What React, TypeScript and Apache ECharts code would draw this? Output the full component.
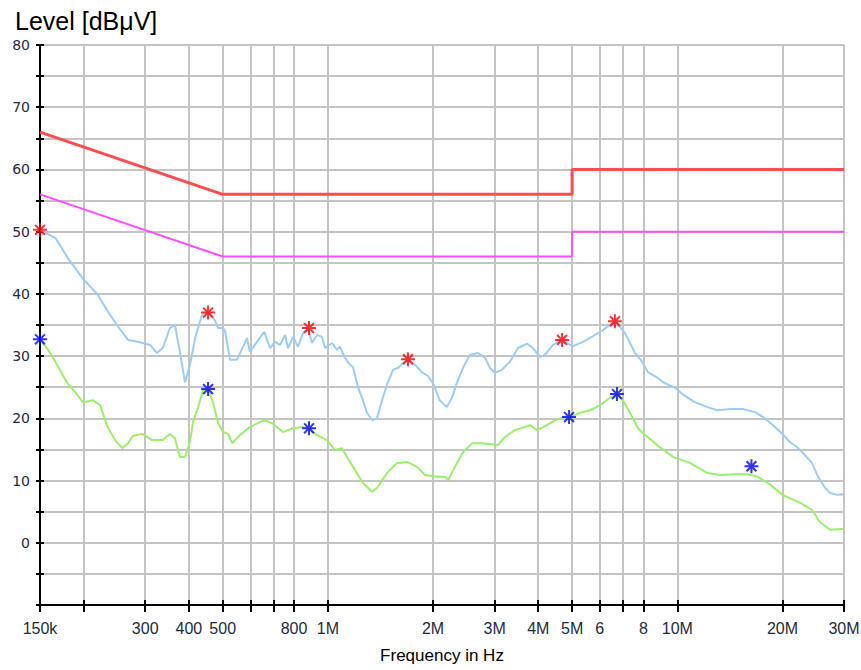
import React, { useEffect, useRef } from "react";
import * as echarts from "echarts";

// Frequency axis (kHz)
const xTickKHz = [150, 200, 300, 400, 500, 600, 700, 800, 1000, 2000, 3000, 4000, 5000, 6000, 7000, 8000, 10000, 20000, 30000];
const xLabelKHz = [150, 300, 400, 500, 800, 1000, 2000, 3000, 4000, 5000, 6000, 8000, 10000, 20000, 30000];
const xLabelText = ["150k", "300", "400", "500", "800", "1M", "2M", "3M", "4M", "5M", "6", "8", "10M", "20M", "30M"];

// Limit lines (kHz, dBµV)
const qpLimitFreq = [150, 500, 5000, 5000, 30000];
const qpLimitLevel = [66, 56, 56, 60, 60];
const avLimitFreq = [150, 500, 5000, 5000, 30000];
const avLimitLevel = [56, 46, 46, 50, 50];

// Peak trace (light blue)
const peakFreq = [150, 166, 180, 198, 220, 233, 249, 268, 286, 310, 324, 337, 353, 365, 377, 390, 403, 417, 436, 454, 475, 485, 501, 508, 525, 549, 587, 598, 627, 657, 683, 706, 729, 754, 769, 795, 821, 849, 877, 901, 931, 962, 981, 1028, 1062, 1083, 1119, 1157, 1180, 1220, 1260, 1294, 1338, 1382, 1429, 1476, 1536, 1587, 1641, 1695, 1776, 1860, 1935, 2000, 2090, 2190, 2270, 2340, 2440, 2550, 2690, 2820, 2910, 3010, 3150, 3320, 3500, 3720, 3860, 4050, 4180, 4410, 4680, 4830, 5030, 5370, 5740, 6130, 6510, 6720, 7090, 7320, 7570, 7930, 8250, 8750, 9100, 9860, 10400, 11200, 12200, 13000, 14200, 15400, 16700, 17600, 18800, 19900, 21000, 22000, 23200, 24300, 25300, 26500, 27400, 28700, 29800, 30000];
const peakLevel = [50.2, 49.0, 45.8, 42.6, 39.8, 37.4, 35.0, 32.6, 32.3, 31.8, 30.5, 31.3, 34.5, 35.0, 30.7, 25.8, 28.6, 32.9, 36.6, 37.1, 35.8, 34.5, 34.5, 34.0, 29.4, 29.4, 32.9, 30.7, 32.3, 33.9, 31.3, 32.3, 31.8, 33.4, 31.3, 33.1, 31.5, 33.7, 34.5, 32.1, 33.4, 33.1, 31.3, 32.1, 31.0, 31.5, 29.7, 28.6, 28.2, 25.0, 22.9, 20.9, 19.7, 20.0, 22.9, 25.4, 27.8, 28.1, 28.9, 29.4, 28.6, 27.4, 26.8, 25.6, 22.9, 21.8, 23.4, 25.7, 28.2, 30.2, 30.5, 29.7, 28.1, 27.3, 27.8, 29.1, 31.3, 32.0, 31.3, 29.9, 30.2, 31.8, 32.6, 32.1, 31.6, 32.3, 33.2, 34.2, 35.3, 35.3, 33.7, 32.1, 30.5, 29.1, 27.4, 26.6, 25.8, 24.9, 23.8, 22.6, 21.8, 21.3, 21.5, 21.5, 21.0, 20.2, 18.9, 17.6, 16.2, 15.4, 14.1, 12.8, 10.6, 8.8, 8.0, 7.7, 7.8, 7.6];

// Average trace (light green)
const avgFreq = [150, 157, 166, 179, 189, 199, 213, 223, 233, 246, 258, 268, 277, 294, 314, 337, 353, 365, 377, 390, 403, 411, 425, 439, 454, 469, 485, 501, 518, 532, 560, 598, 639, 661, 697, 744, 795, 849, 883, 931, 994, 1048, 1097, 1157, 1260, 1338, 1382, 1476, 1576, 1684, 1800, 1897, 2050, 2160, 2210, 2340, 2440, 2590, 2730, 2870, 3070, 3210, 3430, 3790, 3970, 4240, 4470, 4710, 4930, 5270, 5630, 6010, 6420, 6720, 6990, 7320, 7720, 7980, 8750, 9720, 10900, 12200, 13300, 14400, 15900, 17000, 18400, 20000, 22500, 24300, 25600, 27400, 29800, 30000];
const avgLevel = [32.6, 31.3, 29.1, 25.8, 24.2, 22.6, 22.9, 22.1, 18.9, 16.5, 15.2, 16.0, 17.2, 17.5, 16.5, 16.5, 17.5, 16.8, 13.8, 13.8, 16.2, 19.4, 21.7, 24.5, 24.7, 22.6, 19.2, 17.8, 17.5, 16.0, 17.3, 18.6, 19.4, 19.7, 19.1, 17.8, 18.4, 18.6, 18.4, 17.3, 16.5, 14.9, 15.2, 13.0, 9.6, 8.2, 8.8, 11.2, 12.8, 13.0, 12.2, 10.9, 10.6, 10.6, 10.1, 12.8, 14.6, 16.0, 16.0, 15.9, 15.7, 17.0, 18.1, 18.9, 18.1, 18.9, 19.7, 20.2, 20.2, 20.9, 21.3, 22.1, 23.3, 23.9, 22.9, 20.9, 18.4, 17.6, 15.7, 13.8, 12.8, 11.2, 10.9, 11.0, 11.0, 10.6, 9.4, 7.7, 6.4, 5.3, 3.3, 2.1, 2.2, 2.2];

// Final measurement markers
const qpMarkFreq = [150, 454, 883, 1695, 4680, 6630];
const qpMarkLevel = [50.3, 37.0, 34.5, 29.5, 32.6, 35.6];
const avMarkFreq = [150, 454, 883, 4900, 6720, 16300];
const avMarkLevel = [32.7, 24.7, 18.4, 20.2, 23.9, 12.3];

const pair = (f: number[], l: number[]) => f.map((v, i) => [v, l[i]]);

const ASTERISK = "path://M6,0L6,12M0,6L12,6M1.76,1.76L10.24,10.24M10.24,1.76L1.76,10.24";

export default function App() {
  const ref = useRef<HTMLDivElement>(null);
  useEffect(() => {
    if (!ref.current) return;
    const chart = echarts.init(ref.current, undefined, { renderer: "svg" });
    const labelColor = "#1e2b40";
    const xBase: any = {
      type: "log",
      logBase: 10,
      min: 150,
      max: 30000,
      position: "bottom",
    };
    const yBase: any = {
      type: "value",
      min: -10,
      max: 80,
      interval: 5,
      position: "left",
    };
    chart.setOption({
      animation: false,
      backgroundColor: "#ffffff",
      title: {
        text: "Level [dBμV]",
        left: 10,
        top: 3,
        textStyle: { fontFamily: "Liberation Sans", fontSize: 25, fontWeight: "normal", color: "#000" },
      },
      grid: { left: 40, right: 17, top: 45, bottom: 65, containLabel: false, outerBoundsMode: "none" },
      xAxis: [
        {
          ...xBase,
          name: "Frequency in Hz",
          nameLocation: "middle",
          nameGap: 42,
          nameTextStyle: { fontFamily: "Liberation Sans", fontSize: 17, color: "#000" },
          axisLine: { show: true, onZero: false, lineStyle: { color: "#000", width: 2 } },
          axisTick: { show: true, inside: false, length: 7, customValues: xTickKHz, lineStyle: { color: "#000", width: 2 } },
          axisLabel: {
            show: true,
            customValues: xLabelKHz,
            margin: 15,
            fontFamily: "Liberation Sans",
            fontSize: 16,
            color: labelColor,
            formatter: (v: number) => {
              const i = xLabelKHz.findIndex((k) => Math.abs(k - v) / k < 0.01);
              return i >= 0 ? xLabelText[i] : "";
            },
          },
          splitLine: { show: true, lineStyle: { color: "#c4c4c4", width: 2 } },
          minorTick: { show: false },
        },
        {
          ...xBase,
          axisLine: { show: false, onZero: false },
          axisTick: { show: true, inside: true, length: 5, customValues: xTickKHz, lineStyle: { color: "#000", width: 2 } },
          axisLabel: { show: false },
          splitLine: { show: false },
        },
      ],
      yAxis: [
        {
          ...yBase,
          axisLine: { show: true, onZero: false, lineStyle: { color: "#000", width: 2 } },
          axisTick: { show: true, inside: false, length: 4, lineStyle: { color: "#000", width: 2 } },
          axisLabel: {
            margin: 10,
            fontFamily: "DejaVu Sans",
            fontSize: 14,
            color: labelColor,
            formatter: (v: number) => (v % 10 === 0 && v >= 0 ? String(v) : ""),
          },
          splitLine: { show: true, lineStyle: { color: "#c4c4c4", width: 2 } },
        },
        {
          ...yBase,
          axisLine: { show: false, onZero: false },
          axisTick: { show: true, inside: true, length: 4, lineStyle: { color: "#000", width: 2 } },
          axisLabel: { show: false },
          splitLine: { show: false },
        },
      ],
      series: [
        {
          name: "QP limit",
          type: "line",
          data: pair(qpLimitFreq, qpLimitLevel),
          showSymbol: false,
          lineStyle: { color: "#ff4d4d", width: 3 },
          z: 3,
        },
        {
          name: "AV limit",
          type: "line",
          data: pair(avLimitFreq, avLimitLevel),
          showSymbol: false,
          lineStyle: { color: "#ff4dff", width: 2 },
          z: 3,
        },
        {
          name: "Peak",
          type: "line",
          data: pair(peakFreq, peakLevel),
          showSymbol: false,
          lineStyle: { color: "#9ccdf8", width: 2 },
          z: 4,
        },
        {
          name: "Average",
          type: "line",
          data: pair(avgFreq, avgLevel),
          showSymbol: false,
          lineStyle: { color: "#9cef6c", width: 2 },
          z: 4,
        },
        {
          name: "QP final",
          type: "scatter",
          data: pair(qpMarkFreq, qpMarkLevel),
          symbol: ASTERISK,
          symbolSize: 14,
          itemStyle: { color: "#ff0000", borderColor: "#ff0000", borderWidth: 2 },
          z: 6,
        },
        {
          name: "AV final",
          type: "scatter",
          data: pair(avMarkFreq, avMarkLevel),
          symbol: ASTERISK,
          symbolSize: 14,
          itemStyle: { color: "#0000ff", borderColor: "#0000ff", borderWidth: 2 },
          z: 6,
        },
      ],
    });
    return () => chart.dispose();
  }, []);
  return (
    <div
      ref={ref}
      style={{ position: "fixed", left: 0, top: 0, width: 861, height: 670, background: "#fff" }}
    />
  );
}
